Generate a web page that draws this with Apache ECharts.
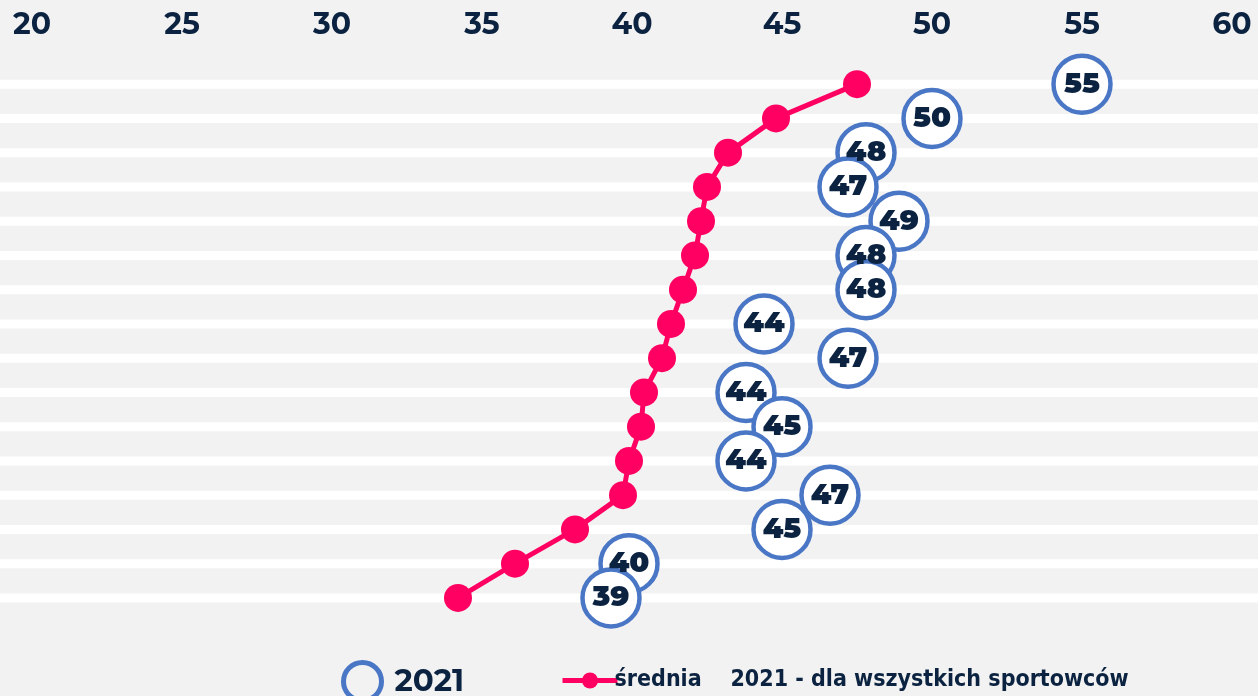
<!DOCTYPE html>
<html>
<head>
<meta charset="utf-8">
<style>
    html, body { margin: 0; padding: 0; background: #f2f2f2; }
    #chart { width: 1258px; height: 696px; }
</style>
<script src="https://cdn.jsdelivr.net/npm/echarts@6/dist/echarts.min.js"></script>
</head>
<body>
<div id="chart"></div>
<script>
// wiersze (od góry)
const rows = ['1', '2', '3', '4', '5', '6', '7', '8', '9', '10', '11', '12', '13', '14', '15', '16'];
// 2021 - kółka
const values2021 = [55.0, 50.0, 47.8, 47.2, 48.9, 47.8, 47.8, 44.4, 47.2, 43.8, 45.0, 43.8, 46.6, 45.0, 39.9, 39.3];
// średnia dla wszystkich sportowców
const avgValues = [47.5, 44.8, 43.2, 42.5, 42.3, 42.1, 41.7, 41.3, 41.0, 40.4, 40.3, 39.9, 39.7, 38.1, 36.1, 34.2];
// pasy w tle
const stripes = rows.map(() => 1);

const navy = '#0b2340';
const blue = '#4a76c6';
const pink = '#ff0062';
const font = 'Montserrat, "Noto Sans", sans-serif';

(function () {
    let myChart = echarts.init(document.getElementById('chart'));
    let option = {
        backgroundColor: '#f2f2f2',
        animation: false,
        grid: [
            { left: 0, right: 0, top: 67, bottom: 81 },     // tło
            { left: 32, right: 26, top: 67, bottom: 81 }    // wykres
        ],
        xAxis: [
            { gridIndex: 0, type: 'value', min: 0, max: 1, show: false },
            {
                gridIndex: 1,
                type: 'value',
                position: 'top',
                min: 20,
                max: 60,
                interval: 5,
                axisLine: { show: false },
                axisTick: { show: false },
                splitLine: { show: false },
                axisLabel: {
                    color: navy,
                    fontSize: 30,
                    fontWeight: 'bold',
                    fontFamily: font,
                    margin: 27
                }
            }
        ],
        yAxis: [
            { gridIndex: 0, type: 'category', inverse: true, data: rows, show: false },
            { gridIndex: 1, type: 'category', inverse: true, data: rows, show: false }
        ],
        legend: [
            {
                data: ['2021'],
                left: 336,
                top: 655,
                itemWidth: 38,
                itemHeight: 38,
                itemGap: 10,
                icon: 'circle',
                itemStyle: { color: 'rgba(0,0,0,0)', borderColor: blue, borderWidth: 5 },
                textStyle: { color: navy, fontSize: 31, fontWeight: 'bold', fontFamily: font, padding: [0, 0, 0, 8] }
            },
            {
                data: ['średnia'],
                left: 555,
                top: 664,
                itemWidth: 55,
                itemHeight: 20,
                lineStyle: { width: 5 },
                formatter: function (name) {
                    return name + '    2021 - dla wszystkich sportowców';
                },
                textStyle: { color: navy, fontSize: 23, fontWeight: 'bold', fontFamily: '"Liberation Sans Narrow", "DejaVu Sans Condensed", sans-serif', padding: [0, 0, 0, -8] }
            }
        ],
        series: [
            {
                name: 'tło',
                type: 'bar',
                xAxisIndex: 0,
                yAxisIndex: 0,
                barWidth: 9,
                silent: true,
                itemStyle: { color: '#ffffff' },
                data: stripes
            },
            {
                name: 'średnia',
                type: 'line',
                xAxisIndex: 1,
                yAxisIndex: 1,
                symbol: 'circle',
                symbolSize: 28,
                lineStyle: { color: pink, width: 5 },
                itemStyle: { color: pink },
                data: avgValues.map((v, i) => [v, rows[i]])
            },
            {
                name: '2021',
                type: 'scatter',
                xAxisIndex: 1,
                yAxisIndex: 1,
                symbol: 'circle',
                symbolSize: 57,
                itemStyle: { color: '#ffffff', borderColor: blue, borderWidth: 4.5, opacity: 1 },
                label: {
                    show: true,
                    position: 'inside',
                    color: navy,
                    fontSize: 29,
                    fontWeight: 900,
                    fontFamily: font,
                    formatter: function (p) {
                        return Math.round(p.value[0]);
                    }
                },
                data: values2021.map((v, i) => [v, rows[i]])
            }
        ]
    };
    myChart.setOption(option);
})();
</script>
</body>
</html>
